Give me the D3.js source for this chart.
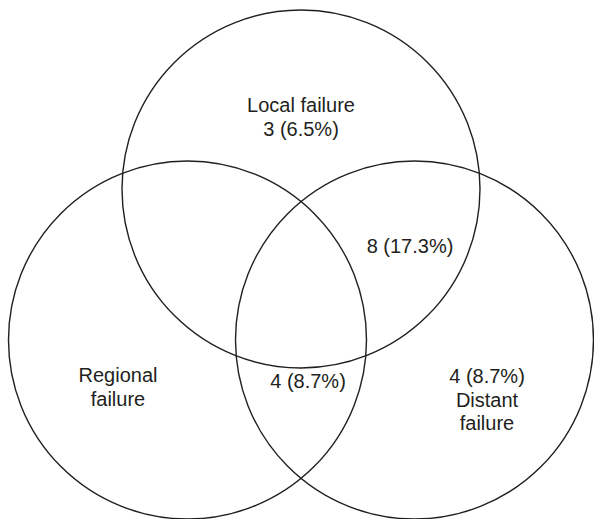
<!DOCTYPE html>
<html>
<head>
<meta charset="utf-8">
<script src="https://cdn.jsdelivr.net/npm/d3@7"></script>
<style>
  html, body { margin: 0; padding: 0; background: #fff; }
  svg { display: block; }
  text { font-family: "Liberation Sans", Arial, Helvetica, sans-serif; fill: #231f20; }
</style>
</head>
<body>
<svg id="chart" width="594" height="519"></svg>
<script>
// ---- data ----
const sets = ["Local failure", "Regional failure", "Distant failure"];
const regionKeys = ["Local only", "Local & Distant", "Regional & Distant", "Distant only"];
const regionCounts = [3, 8, 4, 4];
const regionPercents = [6.5, 17.3, 8.7, 8.7];
const setLabels = ["Local failure", "Regional\nfailure", "Distant\nfailure"];

// ---- layout (unit-space geometry, mapped via scales) ----
const W = 594, H = 519;
const x = d3.scaleLinear().domain([0, 1]).range([0, W]);
const y = d3.scaleLinear().domain([0, 1]).range([0, H]);
const r = 179;
const circleCenters = [[301 / W, 189 / H], [187.5 / W, 340 / H], [414.5 / W, 340 / H]];

const svg = d3.select("#chart");

svg.selectAll("circle.set")
  .data(sets)
  .join("circle")
  .attr("class", "set")
  .attr("cx", (d, i) => x(circleCenters[i][0]))
  .attr("cy", (d, i) => y(circleCenters[i][1]))
  .attr("r", r)
  .attr("fill", "none")
  .attr("stroke", "#231f20")
  .attr("stroke-width", 1.4);

const fmt = (i) => `${regionCounts[i]} (${regionPercents[i]}%)`;

// label blocks: lines + anchor positions
const labels = [
  { lines: [setLabels[0], fmt(0)], cx: 301, y0: 112 },
  { lines: [fmt(1)], cx: 410, y0: 253 },
  { lines: setLabels[1].split("\n"), cx: 118, y0: 382 },
  { lines: [fmt(2)], cx: 308, y0: 388 },
  { lines: [fmt(3)].concat(setLabels[2].split("\n")), cx: 487, y0: 383 }
];
const lh = 23.5;

const g = svg.selectAll("text.lbl")
  .data(labels)
  .join("text")
  .attr("class", "lbl")
  .attr("text-anchor", "middle")
  .attr("font-size", 20);

g.each(function (d) {
  d3.select(this).selectAll("tspan")
    .data(d.lines)
    .join("tspan")
    .attr("x", d.cx)
    .attr("y", (t, j) => d.y0 + j * lh)
    .text(t => t);
});
</script>
</body>
</html>
